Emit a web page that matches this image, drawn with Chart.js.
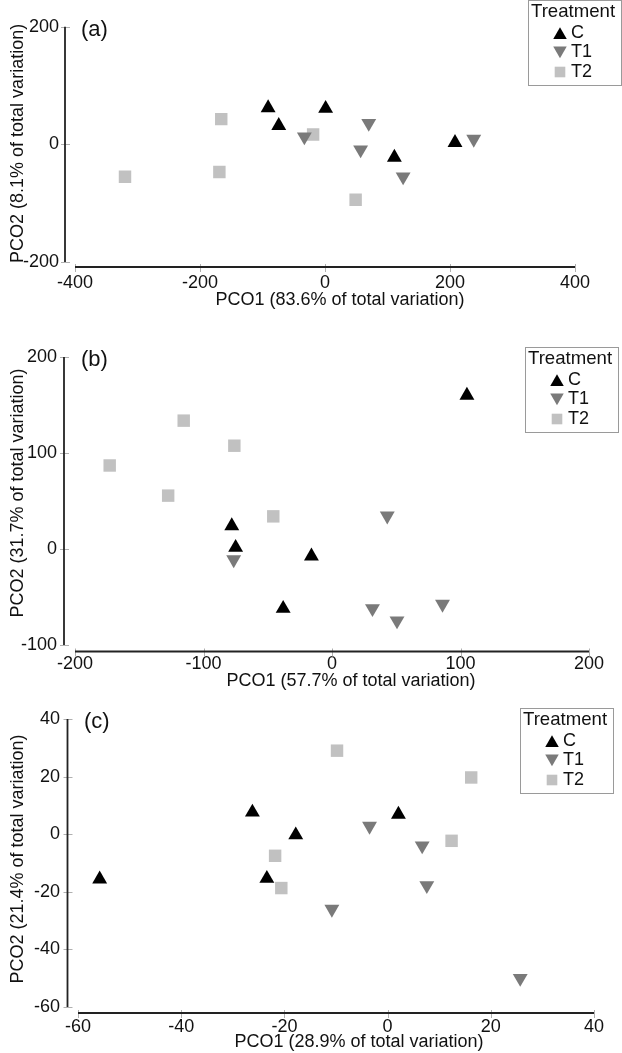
<!DOCTYPE html>
<html>
<head>
<meta charset="utf-8">
<script src="https://cdn.jsdelivr.net/npm/chart.js@4.4.1/dist/chart.umd.min.js"></script>
<style>
  html, body { margin: 0; padding: 0; background: #fff; }
  #wrap { position: relative; width: 622px; height: 1053px; overflow: hidden; }
  .panel { position: absolute; left: 0; width: 622px; }
</style>
</head>
<body>
<div id="wrap">
  <div class="panel" style="top:0px;height:320px"><canvas id="chartA" width="622" height="320"></canvas></div>
  <div class="panel" style="top:320px;height:370px"><canvas id="chartB" width="622" height="370"></canvas></div>
  <div class="panel" style="top:690px;height:363px"><canvas id="chartC" width="622" height="363"></canvas></div>
</div>
<script>
// groups, shared by the three panels
const groups = ['C', 'T1', 'T2'];
const groupColors = ['#000000', '#7a7a7a', '#c1c1c1'];

// panel (a)  [PCO1, PCO2]
const aC  = [[-91, 62], [-74, 32], [1, 61], [111, -22], [208, 3]];
const aT1 = [[-33, 13], [70, 36], [57, -9], [125, -55], [238, 9]];
const aT2 = [[-320, -55], [-166, 43], [-169, -47], [-19, 17], [49, -94]];
const aXTicks = [-400, -200, 0, 200, 400];
const aYTicks = [-200, 0, 200];
const aXTitle = 'PCO1 (83.6% of total variation)';
const aYTitle = 'PCO2 (8.1% of total variation)';

// panel (b)
const bC  = [[105, 160], [-78, 24], [-75, 1.5], [-16, -7.5], [-38, -62]];
const bT1 = [[43, 34.6], [-76.5, -11], [31.5, -62], [50.6, -74.7], [86, -57.4]];
const bT2 = [[-173, 87], [-115.4, 133.7], [-76, 107.6], [-127.5, 55.6], [-45.7, 34]];
const bXTicks = [-200, -100, 0, 100, 200];
const bYTicks = [-100, 0, 100, 200];
const bXTitle = 'PCO1 (57.7% of total variation)';
const bYTitle = 'PCO2 (31.7% of total variation)';

// panel (c)
const cC  = [[-55.8, -15.6], [-26.2, 7.6], [-17.8, -0.3], [-23.4, -15.4], [2.1, 6.9]];
const cT1 = [[-3.5, 2.8], [6.7, -4], [7.6, -17.8], [-10.8, -26], [25.7, -50]];
const cT2 = [[-9.8, 29], [16.2, 19.7], [12.4, -2.3], [-21.8, -7.5], [-20.6, -18.7]];
const cXTicks = [-60, -40, -20, 0, 20, 40];
const cYTicks = [-60, -40, -20, 0, 20, 40];
const cXTitle = 'PCO1 (28.9% of total variation)';
const cYTitle = 'PCO2 (21.4% of total variation)';

const FONT = "'Liberation Sans', Arial, Helvetica, sans-serif";
Chart.defaults.font.family = FONT;
Chart.defaults.font.size = 18;
Chart.defaults.color = '#111';

const markerStyle = [
  { pointStyle: 'triangle', rotation: 0, radius: 8.6 },
  { pointStyle: 'triangle', rotation: 180, radius: 8.6 },
  { pointStyle: 'rect', rotation: 0, radius: 8.8 }
];

// axis lines sit a little away from the plot, like the original software draws them
const decor = {
  id: 'decor',
  afterDraw(chart, args, o) {
    const { ctx, chartArea: ca, scales: { x, y } } = chart;
    ctx.save();
    const ax = ca.left - o.yLineGap;
    const ay = ca.bottom + o.xLineGap;
    const yTop = y.getPixelForValue(o.yTicks[o.yTicks.length - 1]);
    const yBot = y.getPixelForValue(o.yTicks[0]);
    const xL = x.getPixelForValue(o.xTicks[0]);
    const xR = x.getPixelForValue(o.xTicks[o.xTicks.length - 1]);

    // tick marks
    ctx.strokeStyle = '#b0b0b0';
    ctx.lineWidth = 1;
    o.yTicks.forEach(v => {
      const py = Math.round(y.getPixelForValue(v)) + 0.5;
      ctx.beginPath(); ctx.moveTo(ax - 4, py); ctx.lineTo(ax + 5, py); ctx.stroke();
    });
    o.xTicks.forEach(v => {
      const px = Math.round(x.getPixelForValue(v)) + 0.5;
      ctx.beginPath(); ctx.moveTo(px, ay - 3); ctx.lineTo(px, ay + 5); ctx.stroke();
    });

    // axis lines
    ctx.strokeStyle = '#222';
    ctx.lineWidth = 1.8;
    ctx.beginPath(); ctx.moveTo(ax, yTop); ctx.lineTo(ax, yBot); ctx.stroke();
    ctx.beginPath(); ctx.moveTo(xL, ay); ctx.lineTo(xR, ay); ctx.stroke();

    // panel letter
    ctx.fillStyle = '#111';
    ctx.font = '22px ' + FONT;
    ctx.textAlign = 'left';
    ctx.textBaseline = 'middle';
    ctx.fillText(o.letter, ca.left + 6, ca.top + 3);

    // axis titles
    ctx.font = '18px ' + FONT;
    ctx.textAlign = 'center';
    ctx.fillText(o.xTitle, (ca.left + ca.right) / 2 + o.xTitleShift, ca.bottom + o.xTitleDrop);
    ctx.save();
    ctx.translate(o.yTitleX, (ca.top + ca.bottom) / 2 + o.yTitleShift);
    ctx.rotate(-Math.PI / 2);
    ctx.fillText(o.yTitle, 0, 0);
    ctx.restore();

    // legend box
    const lx = o.legendX, ly = o.legendY;
    ctx.strokeStyle = '#9a9a9a';
    ctx.lineWidth = 1;
    ctx.strokeRect(lx + 0.5, ly + 0.5, 93, 85);
    ctx.textAlign = 'left';
    ctx.fillStyle = '#111';
    ctx.font = '18.6px ' + FONT;
    ctx.fillText('Treatment', lx + 3, ly + 12);
    ctx.font = '18px ' + FONT;
    chart.data.datasets.forEach((ds, i) => {
      const ry = ly + 33 + i * 19.5;
      ctx.fillStyle = ds.backgroundColor;
      Chart.helpers.drawPoint(ctx, {
        pointStyle: ds.pointStyle, rotation: ds.rotation,
        radius: ds.pointStyle === 'rect' ? 7.5 : 7.8, borderWidth: 0
      }, lx + 32, ry + (ds.pointStyle === 'triangle' ? (ds.rotation ? -2 : 2) : 0));
      ctx.fillStyle = '#111';
      ctx.fillText(ds.label, lx + 43, ry);
    });
    ctx.restore();
  }
};

function toPoints(arr) {
  return arr.map(p => ({ x: p[0], y: p[1] }));
}

function makePanel(id, series, xTicks, yTicks, box, deco) {
  const datasets = groups.map((g, i) => ({
    label: g,
    data: toPoints(series[i]),
    backgroundColor: groupColors[i],
    borderColor: groupColors[i],
    borderWidth: 0,
    pointStyle: markerStyle[i].pointStyle,
    rotation: markerStyle[i].rotation,
    pointRadius: markerStyle[i].radius,
    pointHoverRadius: markerStyle[i].radius
  }));
  const canvas = document.getElementById(id);
  return new Chart(canvas.getContext('2d'), {
    type: 'scatter',
    data: { datasets },
    options: {
      responsive: false,
      animation: false,
      layout: { padding: { top: box.top, right: 622 - box.right, left: 0, bottom: 0 } },
      plugins: {
        legend: { display: false },
        tooltip: { enabled: false },
        decor: Object.assign({ xTicks, yTicks }, deco)
      },
      scales: {
        x: {
          type: 'linear',
          min: xTicks[0], max: xTicks[xTicks.length - 1],
          afterBuildTicks: s => { s.ticks = xTicks.map(v => ({ value: v })); },
          afterFit: s => { s.height = canvas.height - box.bottom; },
          grid: { display: false, drawTicks: false },
          border: { display: false },
          ticks: { padding: box.xPad, maxRotation: 0, autoSkip: false }
        },
        y: {
          type: 'linear',
          min: yTicks[0], max: yTicks[yTicks.length - 1],
          afterBuildTicks: s => { s.ticks = yTicks.map(v => ({ value: v })); },
          afterFit: s => { s.width = box.left; },
          grid: { display: false, drawTicks: false },
          border: { display: false },
          ticks: { padding: box.yPad, autoSkip: false }
        }
      }
    },
    plugins: [decor]
  });
}

makePanel('chartA', [aC, aT1, aT2], aXTicks, aYTicks,
  { left: 75, right: 575, top: 13, bottom: 262, xPad: 10, yPad: 16 },
  { letter: '(a)', xTitle: aXTitle, yTitle: aYTitle, yLineGap: 10, xLineGap: 5,
    xTitleShift: 15, xTitleDrop: 38, yTitleX: 18, yTitleShift: -1, legendX: 528, legendY: 0 });

makePanel('chartB', [bC, bT1, bT2], bXTicks, bYTicks,
  { left: 75, right: 589, top: 37, bottom: 325, xPad: 8, yPad: 18 },
  { letter: '(b)', xTitle: bXTitle, yTitle: bYTitle, yLineGap: 11, xLineGap: 6.5,
    xTitleShift: 19, xTitleDrop: 36, yTitleX: 18, yTitleShift: -8, legendX: 525, legendY: 27 });

makePanel('chartC', [cC, cT1, cT2], cXTicks, cYTicks,
  { left: 78, right: 594, top: 29, bottom: 317, xPad: 9, yPad: 18 },
  { letter: '(c)', xTitle: cXTitle, yTitle: cYTitle, yLineGap: 10.5, xLineGap: 6,
    xTitleShift: 23, xTitleDrop: 35, yTitleX: 18, yTitleShift: -4, legendX: 520, legendY: 18 });
</script>
</body>
</html>
